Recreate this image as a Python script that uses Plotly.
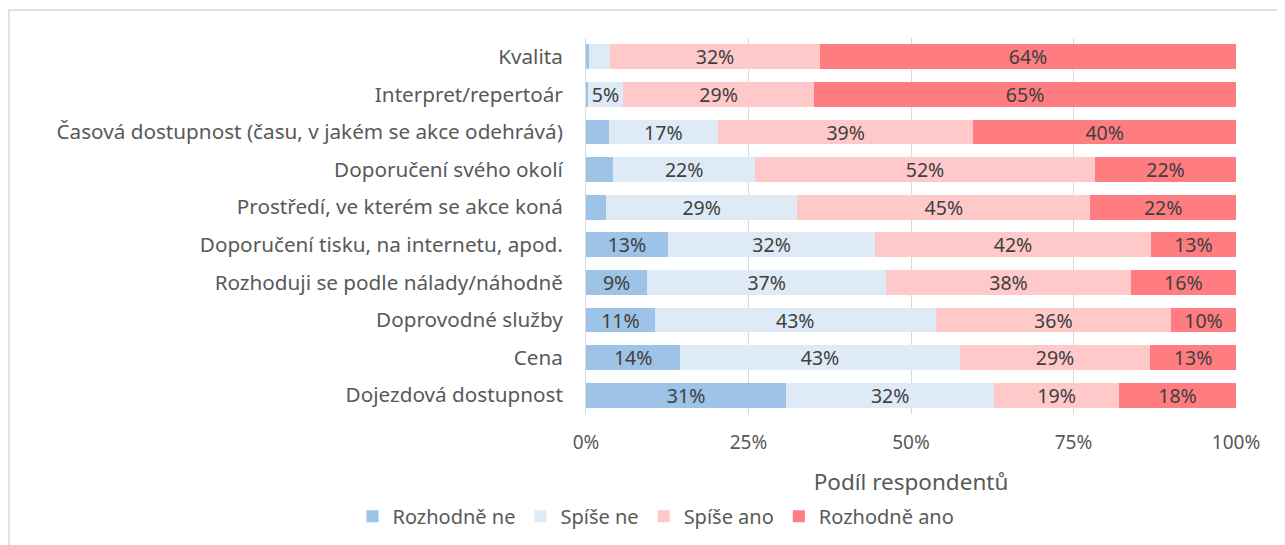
import plotly.graph_objects as go

categories = [
    "Kvalita",
    "Interpret/repertoár",
    "Časová dostupnost (času, v jakém se akce odehrává)",
    "Doporučení svého okolí",
    "Prostředí, ve kterém se akce koná",
    "Doporučení tisku, na internetu, apod.",
    "Rozhoduji se podle nálady/náhodně",
    "Doprovodné služby",
    "Cena",
    "Dojezdová dostupnost",
]
rozhodne_ne = [0.4, 0.3, 3.5, 4.2, 3.1, 12.6, 9.4, 10.6, 14.5, 30.8]
spise_ne = [3.3, 5.4, 16.8, 21.8, 29.4, 31.9, 36.8, 43.2, 43.0, 32.0]
spise_ano = [32.3, 29.4, 39.3, 52.3, 45.1, 42.4, 37.6, 36.2, 29.3, 19.2]
rozhodne_ano = [64.0, 64.9, 40.4, 21.7, 22.4, 13.1, 16.2, 10.0, 13.2, 18.0]

series = [
    ("Rozhodně ne", rozhodne_ne, "#9DC3E6"),
    ("Spíše ne", spise_ne, "#DEEBF7"),
    ("Spíše ano", spise_ano, "#FFC9C9"),
    ("Rozhodně ano", rozhodne_ano, "#FF7C80"),
]

FONT = "Noto Sans"
fig = go.Figure()
for name, vals, col in series:
    texts = [f"{round(v):d}%" if v >= 5 else "" for v in vals]
    fig.add_trace(go.Bar(
        name=name, y=categories, x=vals, orientation="h",
        marker=dict(color=col, line=dict(width=0)),
        text=texts, textposition="inside", insidetextanchor="middle",
        textfont=dict(family=FONT, size=19.5, color="#404040"),
        constraintext="none", width=0.66,
    ))

W, H = 1277, 537
L, T = 578, 30
PW, PH = 650, 376
fig.update_layout(
    barmode="stack",
    width=W, height=H,
    margin=dict(l=L, r=W - L - PW, t=T, b=H - T - PH, autoexpand=False),
    paper_bgcolor="white", plot_bgcolor="white",
    font=dict(family=FONT, size=19, color="#595959"),
    xaxis=dict(
        range=[0, 100], tickvals=[0, 25, 50, 75, 100],
        ticktext=["0%", "25%", "50%", "75%", "100%"],
        showgrid=True, gridcolor="#D9D9D9", gridwidth=1,
        zeroline=False, showline=False,
        ticklabelstandoff=15,
        tickfont=dict(size=19, color="#595959"),
        title=dict(text="Podíl respondentů", font=dict(size=22.5, color="#595959"), standoff=20),
    ),
    yaxis=dict(
        autorange="reversed", showgrid=False, zeroline=False,
        showline=True, linecolor="#D9D9D9", linewidth=1,
        ticklabelstandoff=18,
        tickfont=dict(size=20.7, color="#595959"),
    ),
    legend=dict(
        orientation="h", x=(656 - 586) / PW, xanchor="center", y=-0.22, yanchor="top",
        font=dict(size=20, color="#595959"), traceorder="normal",
        itemwidth=30,
    ),
    shapes=[dict(
        type="rect", xref="paper", yref="paper",
        x0=(9 - 586) / PW, x1=(1300 - 586) / PW,
        y0=-0.5, y1=1 + (38 - 10) / PH,
        line=dict(color="#D9D9D9", width=1.5), fillcolor="rgba(0,0,0,0)", layer="below",
    )],
)

fig.write_html("out.html")
